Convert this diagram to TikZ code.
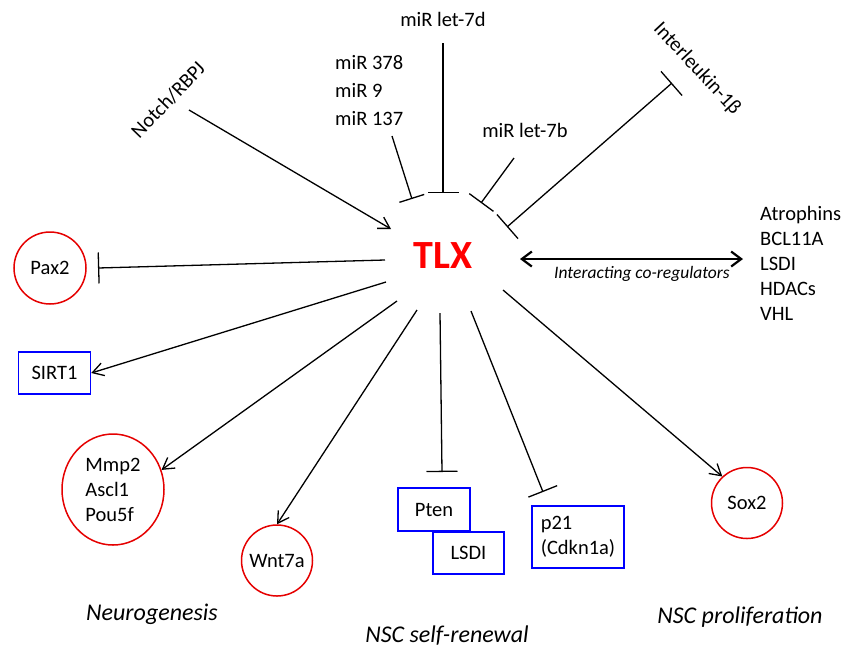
\documentclass[tikz,border=0pt]{standalone}
\usepackage{fontspec}
\setmainfont{Carlito}
\usetikzlibrary{arrows.meta,shapes.geometric}
\tikzset{
  lbl/.style={font=\fontsize{20.5}{25}\selectfont, inner sep=0pt, align=left},
  grp/.style={font=\fontsize{24}{28}\selectfont\itshape, inner sep=0pt},
  redc/.style={draw=red!90!black, line width=1.5pt, circle, inner sep=0pt, font=\fontsize{20.5}{25}\selectfont},
  rede/.style={draw=red!90!black, line width=1.5pt, ellipse, inner sep=0pt, align=left, font=\fontsize{20.5}{25}\selectfont},
  bluebox/.style={draw=blue, line width=1.5pt, rectangle, inner sep=0pt, align=left, font=\fontsize{20.5}{25}\selectfont},
  act/.style={line width=1.3pt, -{Straight Barb[length=11pt,width=13pt]}},
  inh/.style={line width=1.3pt, -{Bar[width=#1]}},
  inh/.default=31pt,
}
\begin{document}
\begin{tikzpicture}[x=1pt,y=-1pt]
\useasboundingbox (0,0) rectangle (856,649);

% central node
\node[font=\fontsize{40}{44}\selectfont\bfseries, text=red, inner sep=0pt] (tlx) at (443,256) {TLX};

% upstream labels
\node[lbl, rotate=46] (notch) at (168,100) {Notch/RBPJ};
\node[lbl, font=\fontsize{20.5}{28}\selectfont, anchor=west] (mirs) at (335,91) {miR 378\\miR 9\\miR 137};
\node[lbl] (let7d) at (443,19) {miR let-7d};
\node[lbl] (let7b) at (525,130) {miR let-7b};
\node[lbl, rotate=-47] (il) at (697,69) {Interleukin-1β};
\node[lbl, anchor=west] (coreg) at (760,263) {Atrophins\\BCL11A\\LSDI\\HDACs\\VHL};
\node[font=\fontsize{17.5}{20}\selectfont\itshape, inner sep=0pt] (colab) at (642,274) {Interacting co-regulators};

% targets
\node[redc, minimum size=72pt] (pax2) at (50,268) {Pax2};
\node[bluebox, minimum width=72pt, minimum height=42pt] (sirt1) at (54.5,373) {SIRT1};
\node[rede, minimum width=102pt, minimum height=111pt] (mmp) at (113,489.5) {Mmp2\\Ascl1\\Pou5f};
\node[redc, minimum size=71pt] (wnt) at (277,560.5) {Wnt7a};
\node[bluebox, minimum width=71pt, minimum height=42pt] (lsdi) at (468.5,553) {LSDI};
\node[bluebox, minimum width=72pt, minimum height=43pt, fill=white] (pten) at (434,509.5) {Pten};
\node[bluebox, minimum width=92pt, minimum height=62pt] (p21) at (578,537) {p21\\(Cdkn1a)};
\node[redc, minimum size=71pt] (sox2) at (747,503) {Sox2};

% group labels
\node[grp] (neuro) at (152,614) {Neurogenesis};
\node[grp] (selfren) at (447,636) {NSC self-renewal};
\node[grp] (prolif) at (740,617) {NSC proliferation};

% connector end points
\coordinate (notchS) at (189,110);
\coordinate (notchE) at (391,229);
\coordinate (mirS) at (392,136);
\coordinate (mirE) at (412,199);
\coordinate (d7S) at (443,43);
\coordinate (d7E) at (443,193);
\coordinate (b7S) at (514,158);
\coordinate (b7E) at (481,203);
\coordinate (ilS) at (672,83);
\coordinate (ilE) at (507,227);
\coordinate (coS) at (520,259);
\coordinate (coE) at (743,259);
\coordinate (paxS) at (385,260);
\coordinate (paxE) at (98,268);
\coordinate (sirS) at (386,282);
\coordinate (mmpS) at (397,301);
\coordinate (wntS) at (417,310);
\coordinate (ptenS) at (440,313);
\coordinate (ptenE) at (442,472);
\coordinate (p21S) at (471,311);
\coordinate (p21E) at (543,492);
\coordinate (soxS) at (503,290);

% connectors
\draw[act] (notchS) -- (notchE);
\draw[inh=26pt] (mirS) -- (mirE);
\draw[inh] (d7S) -- (d7E);
\draw[inh=30pt] (b7S) -- (b7E);
\draw[line width=1.3pt, {Bar[width=32pt]}-{Bar[width=32pt]}] (ilS) -- (ilE);
\draw[line width=2.2pt, {Straight Barb[length=10pt,width=15pt]}-{Straight Barb[length=10pt,width=15pt]}] (coS) -- (coE);
\draw[inh] (paxS) -- (paxE);
\draw[act] (sirS) -- (sirt1.east);
\draw[act] (mmpS) -- (mmp.22);
\draw[act] (wntS) -- (wnt.north);
\draw[inh] (ptenS) -- (ptenE);
\draw[inh] (p21S) -- (p21E);
\draw[act] (soxS) -- (sox2.133);
\end{tikzpicture}
\end{document}
